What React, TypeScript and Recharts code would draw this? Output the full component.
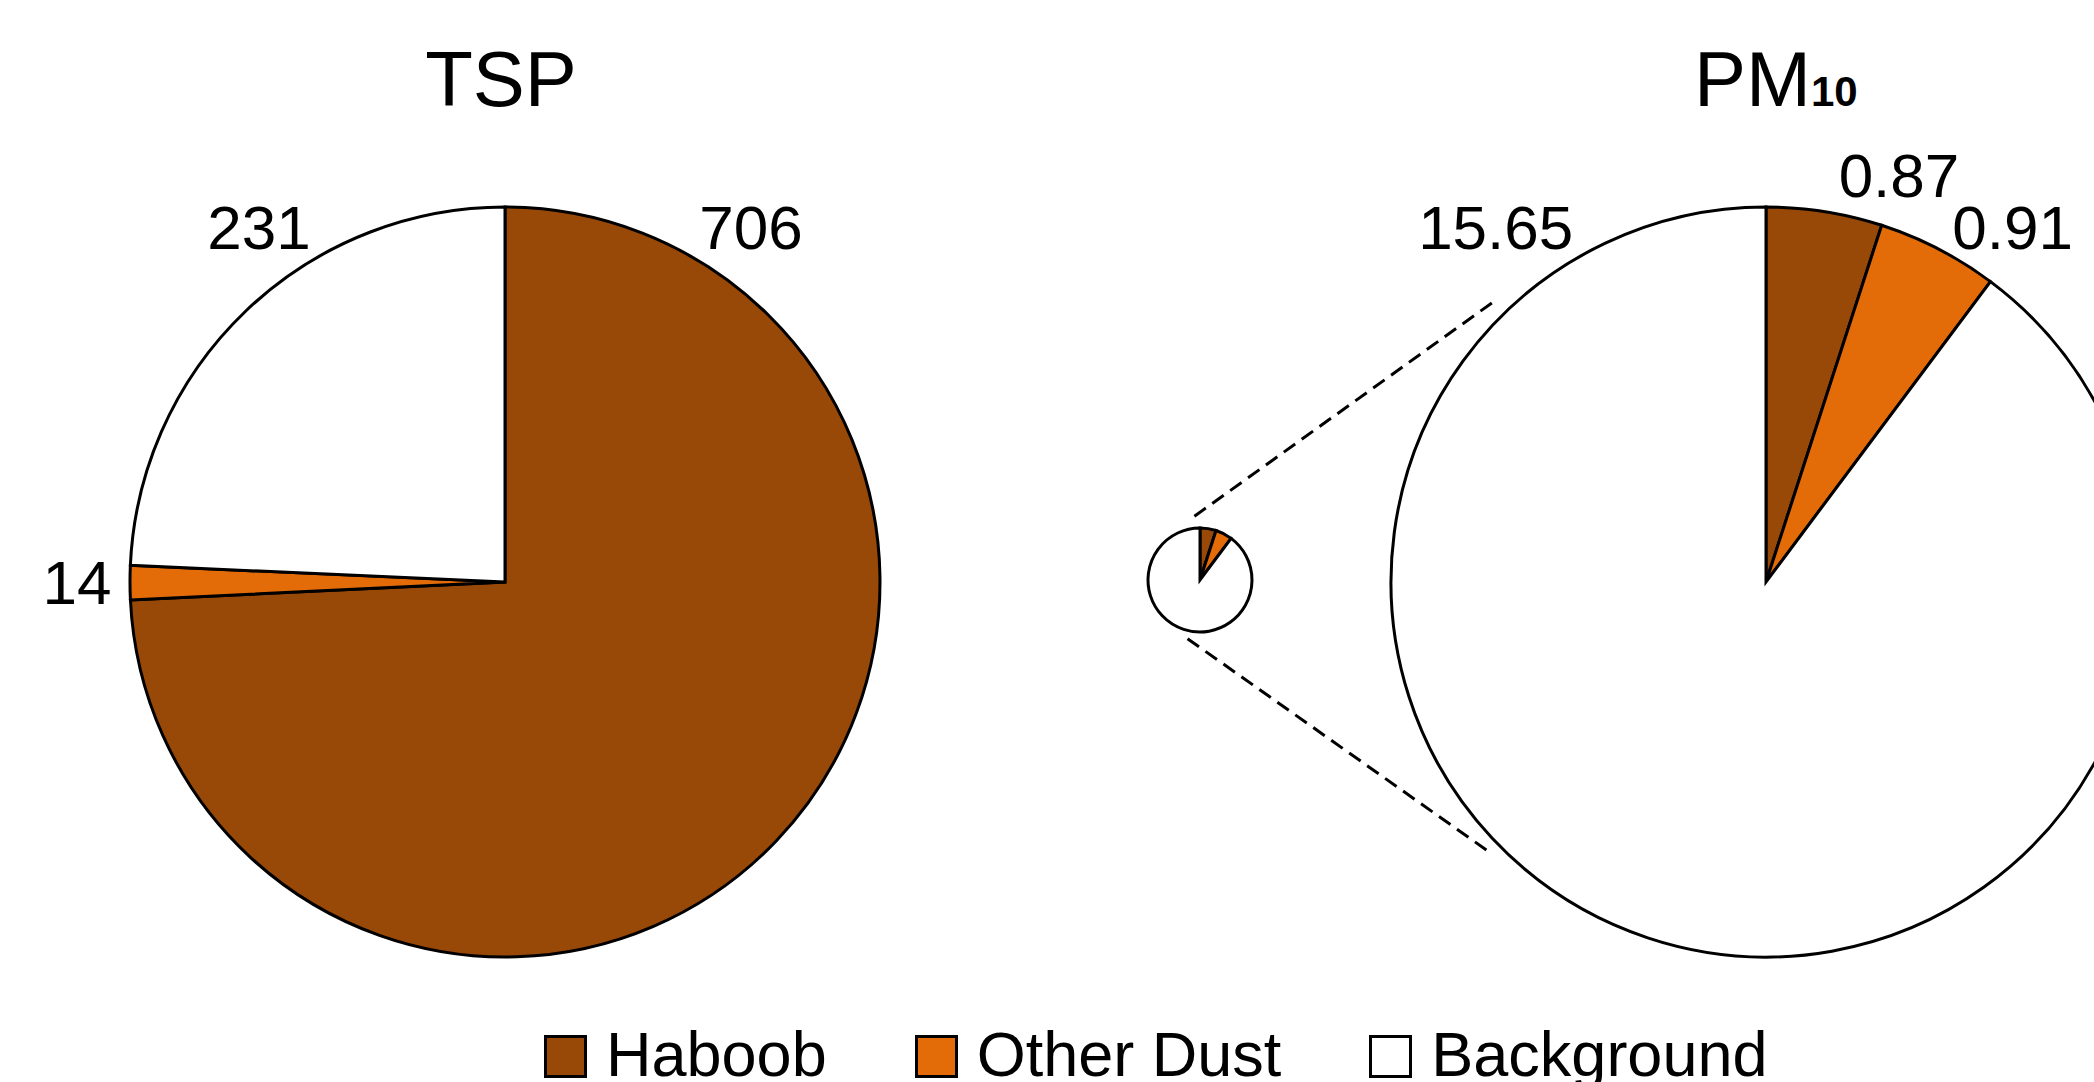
import React from 'react';
import { PieChart, Pie, Cell, Legend, Customized } from 'recharts';

const categories = ['Haboob', 'Other Dust', 'Background'];
const tspValues = [706, 14, 231];
const pm10Values = [0.87, 0.91, 15.65];
const sliceColors = ['#984807', '#E36C09', '#FFFFFF'];
const titleTsp = 'TSP';
const titlePmMain = 'PM';
const titlePmSub = '10';

const tspData = categories.map((name, i) => ({ name, value: tspValues[i] }));
const pm10Data = categories.map((name, i) => ({ name, value: pm10Values[i] }));

const FONT = '"Liberation Sans", Arial, Helvetica, sans-serif';
const W = 2094;
const H = 1082;

// geometry
const TSP_C = { x: 505, y: 582, r: 375 };
const SMALL_C = { x: 1200, y: 580, r: 52 };
const BIG_C = { x: 1766, y: 582, r: 375 };

const LABEL_SIZE = 62;
const STROKE_W = 3;

// label placement (clockwise degrees from 12 o'clock, distance beyond the rim)
const tspLabelPos = [
  { a: 34.7, d: 57 },
  { a: -90, d: 53 },
  { a: -34.7, d: 57 },
];
const pmLabelPos = [
  { a: 18.1, d: 53 },
  { a: 34.8, d: 57 },
  { a: -37.3, d: 71 },
];

const makeLabel = (pos: { a: number; d: number }[]) => (props: any) => {
  const { cx, cy, outerRadius, index, value } = props;
  const p = pos[index];
  const rad = (p.a * Math.PI) / 180;
  const dist = outerRadius + p.d;
  const x = cx + dist * Math.sin(rad);
  const y = cy - dist * Math.cos(rad);
  return (
    <text
      key={`lbl-${index}`}
      x={x}
      y={y + LABEL_SIZE * 0.358}
      textAnchor="middle"
      fontFamily={FONT}
      fontSize={LABEL_SIZE}
      fill="#000"
    >
      {String(value)}
    </text>
  );
};

const polar = (c: { x: number; y: number }, dist: number, deg: number) => {
  const rad = (deg * Math.PI) / 180;
  return { x: c.x + dist * Math.sin(rad), y: c.y - dist * Math.cos(rad) };
};

const Overlay = () => {
  const s1 = polar(SMALL_C, SMALL_C.r + 12, -5);
  const e1 = polar(BIG_C, BIG_C.r + 16, -44.3);
  const s2 = polar(SMALL_C, SMALL_C.r + 8, 192);
  const e2 = polar(BIG_C, BIG_C.r + 12, 226);
  return (
    <g>
      <text x={501} y={106} textAnchor="middle" fontFamily={FONT} fontSize={78} fill="#000">
        {titleTsp}
      </text>
      <text x={1694} y={106} textAnchor="start" fontFamily={FONT} fontSize={78} fill="#000">
        {titlePmMain}
        <tspan fontSize={42} fontWeight="bold">{titlePmSub}</tspan>
      </text>
      <line x1={s1.x} y1={s1.y} x2={e1.x} y2={e1.y} stroke="#000" strokeWidth={3} strokeDasharray="14 8" />
      <line x1={s2.x} y1={s2.y} x2={e2.x} y2={e2.y} stroke="#000" strokeWidth={3} strokeDasharray="14 8" />
    </g>
  );
};

const renderLegend = () => (
  <div
    style={{
      display: 'flex',
      flexDirection: 'row',
      alignItems: 'flex-start',
      paddingLeft: 544,
      fontFamily: FONT,
      fontSize: 63,
      lineHeight: '63px',
      color: '#000',
      whiteSpace: 'nowrap',
    }}
  >
    {categories.map((name, i) => (
      <div key={name} style={{ display: 'flex', alignItems: 'flex-start', marginRight: 88 }}>
        <div
          style={{
            width: 43,
            height: 43,
            boxSizing: 'border-box',
            border: '3px solid #000',
            background: sliceColors[i],
            marginTop: 12,
            marginRight: 19,
          }}
        />
        <span>{name}</span>
      </div>
    ))}
  </div>
);

export default function App() {
  return (
    <div style={{ position: 'absolute', left: 0, top: 0, width: W, height: H, background: '#fff', overflow: 'hidden' }}>
      <PieChart width={W} height={H} margin={{ top: 0, right: 0, bottom: 0, left: 0 }}>
        <Pie
          data={tspData}
          dataKey="value"
          nameKey="name"
          cx={TSP_C.x}
          cy={TSP_C.y}
          outerRadius={TSP_C.r}
          startAngle={90}
          endAngle={-270}
          label={makeLabel(tspLabelPos)}
          labelLine={false}
          isAnimationActive={false}
          legendType="none"
        >
          {tspData.map((d, i) => (
            <Cell key={d.name} fill={sliceColors[i]} stroke="#000" strokeWidth={STROKE_W} />
          ))}
        </Pie>
        <Pie
          data={pm10Data}
          dataKey="value"
          nameKey="name"
          cx={SMALL_C.x}
          cy={SMALL_C.y}
          outerRadius={SMALL_C.r}
          startAngle={90}
          endAngle={-270}
          isAnimationActive={false}
          legendType="none"
        >
          {pm10Data.map((d, i) => (
            <Cell key={d.name} fill={sliceColors[i]} stroke="#000" strokeWidth={STROKE_W} />
          ))}
        </Pie>
        <Pie
          data={pm10Data}
          dataKey="value"
          nameKey="name"
          cx={BIG_C.x}
          cy={BIG_C.y}
          outerRadius={BIG_C.r}
          startAngle={90}
          endAngle={-270}
          label={makeLabel(pmLabelPos)}
          labelLine={false}
          isAnimationActive={false}
          legendType="none"
        >
          {pm10Data.map((d, i) => (
            <Cell key={d.name} fill={sliceColors[i]} stroke="#000" strokeWidth={STROKE_W} />
          ))}
        </Pie>
        <Customized component={<Overlay />} />
        <Legend
          content={renderLegend}
          wrapperStyle={{ position: 'absolute', left: 0, top: 1023, bottom: 'auto', width: W, height: 59 }}
        />
      </PieChart>
    </div>
  );
}
